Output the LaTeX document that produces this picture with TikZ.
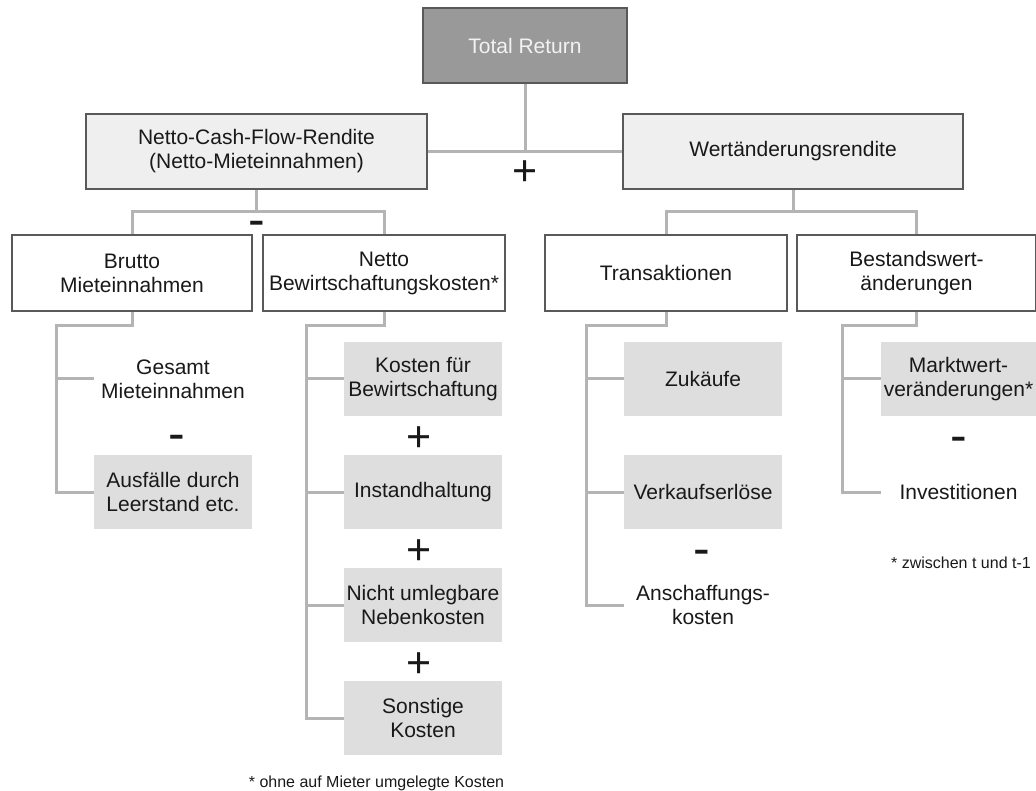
\documentclass[tikz,border=0pt]{standalone}
\usepackage{fontspec}
\setmainfont{Liberation Sans}
\usepackage{xcolor}
\usepackage{tikz}
\usetikzlibrary{positioning}

\definecolor{boxline}{HTML}{595959}
\definecolor{linkgray}{HTML}{B4B4B4}
\definecolor{topfill}{HTML}{999999}
\definecolor{toptext}{HTML}{F2F2F2}
\definecolor{mainfill}{HTML}{EFEFEF}
\definecolor{leaffill}{HTML}{DEDEDE}

\begin{document}
\begin{tikzpicture}[
    x=1pt, y=-1pt,
    every node/.style={inner sep=0pt, align=center, text=black!90, font=\fontsize{21}{24}\selectfont},
    topbox/.style={draw=boxline, line width=1.2pt, fill=topfill, text=toptext, minimum width=204pt, minimum height=75pt},
    mainbox/.style={draw=boxline, line width=1.2pt, fill=mainfill, minimum width=340pt, minimum height=75pt},
    subbox/.style={draw=boxline, line width=1.2pt, fill=white, minimum width=241pt, minimum height=76pt},
    leaf/.style={fill=leaffill, minimum width=158pt, minimum height=74pt},
    bare/.style={minimum width=158pt, minimum height=74pt},
    plussign/.style={font=\fontsize{43}{43}\selectfont, yshift=-3pt},
    minussign/.style={font=\fontsize{50}{50}\selectfont, yshift=-7pt},
    note/.style={font=\fontsize{16}{18}\selectfont},
    link/.style={draw=linkgray, line width=3pt},
  ]

  \useasboundingbox (0, 0) rectangle (1036, 791);

  \node[topbox] (total) at (525, 45.5) {Total Return};
  \node[mainbox, minimum width=341pt] (ncf) at (256.5, 151.5) {Netto-Cash-Flow-Rendite\\(Netto-Mieteinnahmen)};
  \node[mainbox] (wert) at (793, 151.5) {Wertänderungsrendite};

  \node[subbox, minimum width=240pt] (brutto)  at (132, 273)   {Brutto\\Mieteinnahmen};
  \node[subbox, minimum width=242pt] (netto)   at (384, 273)   {Netto\\Bewirtschaftungskosten*};
  \node[subbox, minimum width=242pt] (trans)   at (666, 273)   {Transaktionen};
  \node[subbox, minimum width=239pt] (bestand) at (916.5, 273) {Bestandswert-\\änderungen};

  \node[bare] (b1) at (173, 379) {Gesamt\\Mieteinnahmen};
  \node[leaf] (b2) at (173, 492) {Ausfälle durch\\Leerstand etc.};

  \node[leaf] (n1) at (423, 379) {Kosten für\\Bewirtschaftung};
  \node[leaf] (n2) at (423, 492) {Instandhaltung};
  \node[leaf] (n3) at (423, 605) {Nicht umlegbare\\Nebenkosten};
  \node[leaf] (n4) at (423, 718) {Sonstige\\Kosten};

  \node[leaf] (t1) at (703, 379) {Zukäufe};
  \node[leaf] (t2) at (703, 492) {Verkaufserlöse};
  \node[bare] (t3) at (703, 605) {Anschaffungs-\\kosten};

  \node[leaf, minimum width=155pt] (m1) at (958.5, 379) {Marktwert-\\veränderungen*};
  \node[bare, minimum width=155pt] (m2) at (958.5, 492) {Investitionen};

  % signs
  \node[plussign]  (s0)  at (525, 170)   {+};
  \node[minussign] (s1)  at (256.5, 222) {-};
  \node[minussign] (sb)  at (177, 435.5) {-};
  \node[plussign]  (sn1) at (419, 436)   {+};
  \node[plussign]  (sn2) at (419, 549)   {+};
  \node[plussign]  (sn3) at (419, 662)   {+};
  \node[minussign] (st)  at (702, 551)   {-};
  \node[minussign] (sm)  at (959, 438)   {-};

  \node[note] (fn1) at (376.5, 783) {* ohne auf Mieter umgelegte Kosten};
  \node[note] (fn2) at (961, 563)   {* zwischen t und t-1};

  \coordinate (jl) at (256.5, 212);
  \coordinate (jr) at (793, 212);
  \coordinate (bs) at (56, 326);
  \coordinate (ns) at (306, 326);
  \coordinate (ts) at (586, 326);
  \coordinate (ms) at (842, 326);

  \draw[link] (total) -- (total |- ncf);
  \draw[link] (ncf) -- (wert);

  \draw[link] (ncf) -- (jl);
  \draw[link] (brutto) |- (jl) -| (netto);
  \draw[link] (wert) -- (jr);
  \draw[link] (trans) |- (jr) -| (bestand);

  \draw[link] (brutto) |- (bs) |- (b2);
  \draw[link] (bs |- b1) -- (b1);

  \draw[link] (netto) |- (ns) |- (n4);
  \draw[link] (ns |- n1) -- (n1);
  \draw[link] (ns |- n2) -- (n2);
  \draw[link] (ns |- n3) -- (n3);

  \draw[link] (trans) |- (ts) |- (t3);
  \draw[link] (ts |- t1) -- (t1);
  \draw[link] (ts |- t2) -- (t2);

  \draw[link] (bestand) |- (ms) |- (m2);
  \draw[link] (ms |- m1) -- (m1);

\end{tikzpicture}
\end{document}
